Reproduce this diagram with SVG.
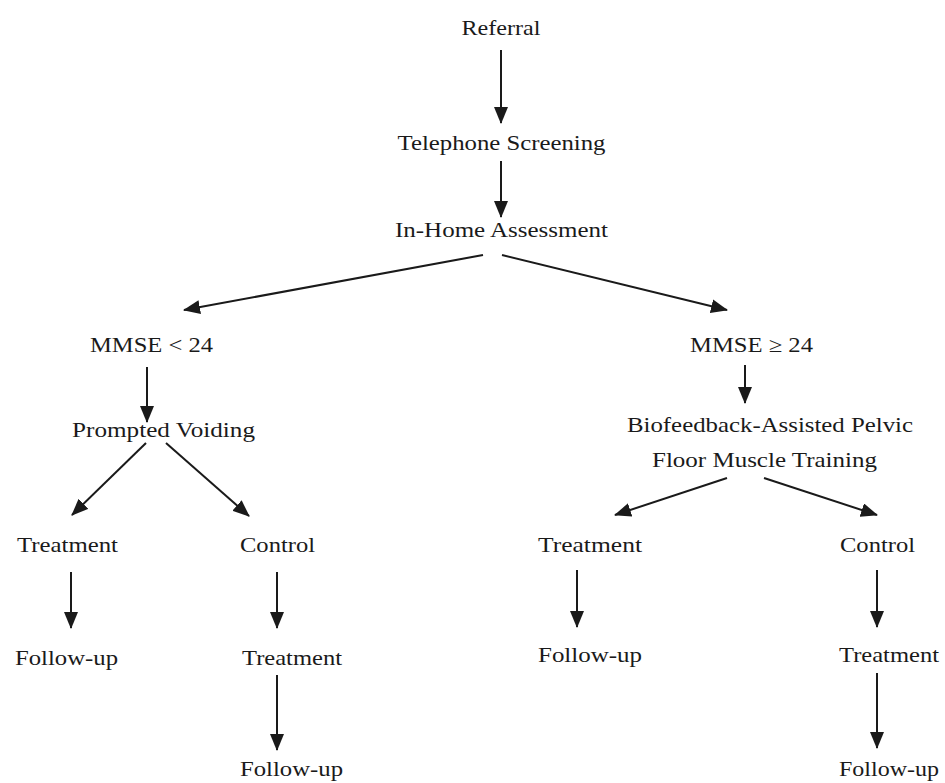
<svg xmlns="http://www.w3.org/2000/svg" width="945" height="783" viewBox="0 0 945 783">
<defs>
<marker id="ah" markerUnits="userSpaceOnUse" markerWidth="18" markerHeight="14" refX="16" refY="7" orient="auto">
<path d="M0,0 L17,7 L0,14 z" fill="#1a1a1a"/>
</marker>
<style>
text{font-family:"Liberation Serif","Times New Roman",serif;font-size:21px;fill:#1a1a1a;text-anchor:middle}
.c line{stroke:#1a1a1a;stroke-width:2;marker-end:url(#ah)}
</style>
</defs>
<rect width="945" height="783" fill="#fff"/>
<g class="c" id="connectors">
<line x1="501" y1="50" x2="501" y2="123"/>
<line x1="501" y1="161" x2="501" y2="217"/>
<line x1="483" y1="255" x2="184" y2="310"/>
<line x1="502" y1="255" x2="727" y2="310"/>
<line x1="147" y1="367" x2="147" y2="422"/>
<line x1="745" y1="365" x2="745" y2="403"/>
<line x1="146" y1="443" x2="72" y2="515"/>
<line x1="166" y1="443" x2="249" y2="516"/>
<line x1="727" y1="478" x2="615" y2="515"/>
<line x1="764" y1="478" x2="877" y2="515"/>
<line x1="71" y1="572" x2="71" y2="628"/>
<line x1="277" y1="572" x2="277" y2="628"/>
<line x1="277" y1="675" x2="277" y2="750"/>
<line x1="577" y1="570" x2="577" y2="627"/>
<line x1="877" y1="570" x2="877" y2="627"/>
<line x1="877" y1="673" x2="877" y2="748"/>
</g>
<g id="referral"><text x="501" y="35" textLength="79" lengthAdjust="spacingAndGlyphs">Referral</text></g>
<g id="telephone"><text x="501.5" y="150" textLength="208" lengthAdjust="spacingAndGlyphs">Telephone Screening</text></g>
<g id="inhome"><text x="501.5" y="237" textLength="213" lengthAdjust="spacingAndGlyphs">In-Home Assessment</text></g>
<g id="mmse-low"><text x="151.5" y="352" textLength="123" lengthAdjust="spacingAndGlyphs">MMSE &lt; 24</text></g>
<g id="prompted"><text x="163.5" y="437" textLength="183" lengthAdjust="spacingAndGlyphs">Prompted Voiding</text></g>
<g id="mmse-high"><text x="751.5" y="352" textLength="123" lengthAdjust="spacingAndGlyphs">MMSE ≥ 24</text></g>
<g id="biofeedback">
<text x="770" y="432" textLength="286" lengthAdjust="spacingAndGlyphs">Biofeedback-Assisted Pelvic</text>
<text x="764.5" y="467" textLength="225" lengthAdjust="spacingAndGlyphs">Floor Muscle Training</text>
</g>
<g id="treatment-l"><text x="67.5" y="552" textLength="101" lengthAdjust="spacingAndGlyphs">Treatment</text></g>
<g id="control-l"><text x="277.5" y="552" textLength="75" lengthAdjust="spacingAndGlyphs">Control</text></g>
<g id="followup-l"><text x="66.5" y="665" textLength="103" lengthAdjust="spacingAndGlyphs">Follow-up</text></g>
<g id="treatment-l2"><text x="292" y="665" textLength="100" lengthAdjust="spacingAndGlyphs">Treatment</text></g>
<g id="followup-l2"><text x="291.5" y="776" textLength="103" lengthAdjust="spacingAndGlyphs">Follow-up</text></g>
<g id="treatment-r"><text x="590" y="552" textLength="104" lengthAdjust="spacingAndGlyphs">Treatment</text></g>
<g id="control-r"><text x="877.5" y="552" textLength="75" lengthAdjust="spacingAndGlyphs">Control</text></g>
<g id="followup-r"><text x="590" y="662" textLength="104" lengthAdjust="spacingAndGlyphs">Follow-up</text></g>
<g id="treatment-r2"><text x="889" y="662" textLength="100" lengthAdjust="spacingAndGlyphs">Treatment</text></g>
<g id="followup-r2"><text x="889" y="776" textLength="100" lengthAdjust="spacingAndGlyphs">Follow-up</text></g>
</svg>
